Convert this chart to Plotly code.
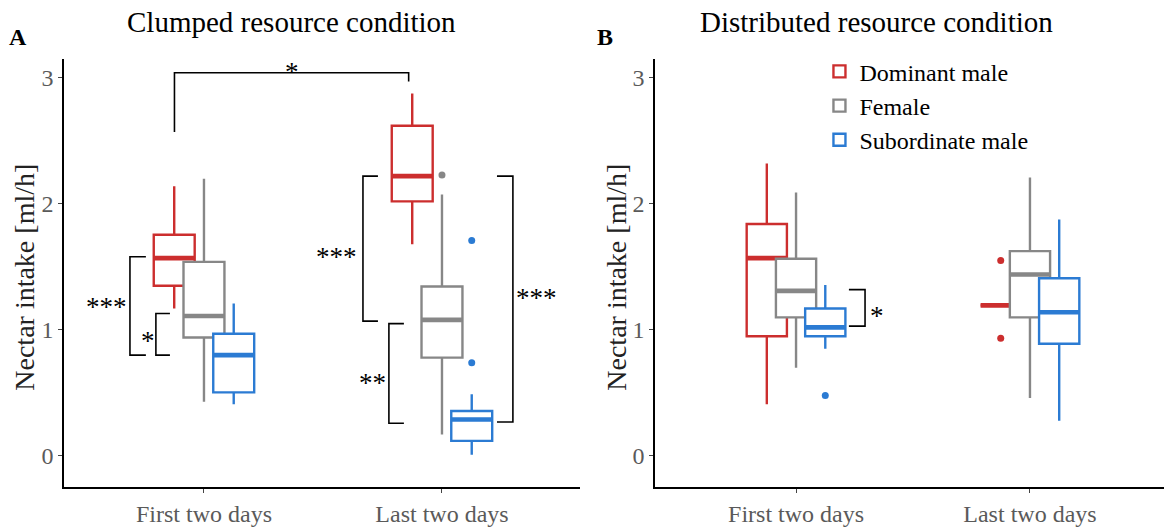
import plotly.graph_objects as go

# ---- data -------------------------------------------------------------
days = ["First two days", "Last two days"]
groups = ["Dominant male", "Female", "Subordinate male"]
colors = ["#CC2E2E", "#878787", "#2B7BD3"]

# Clumped resource condition: per group, values for [first, last]
clumped_lower = [[1.17, 1.68], [0.43, 0.17], [0.41, 0.01]]
clumped_q1 = [[1.35, 2.02], [0.94, 0.78], [0.505, 0.12]]
clumped_median = [[1.57, 2.22], [1.11, 1.08], [0.80, 0.29]]
clumped_q3 = [[1.755, 2.62], [1.54, 1.345], [0.97, 0.357]]
clumped_upper = [[2.14, 2.875], [2.20, 2.075], [1.21, 0.49]]
# outliers: (group index, day index, value)
clumped_outliers = [(1, 1, 2.23), (2, 1, 1.71), (2, 1, 0.74)]

# Distributed resource condition
distributed_lower = [[0.41, 1.195], [0.70, 0.46], [0.85, 0.28]]
distributed_q1 = [[0.95, 1.195], [1.10, 1.10], [0.95, 0.89]]
distributed_median = [[1.57, 1.195], [1.31, 1.44], [1.02, 1.14]]
distributed_q3 = [[1.84, 1.195], [1.565, 1.625], [1.17, 1.41]]
distributed_upper = [[2.32, 1.195], [2.09, 2.21], [1.357, 1.877]]
distributed_outliers = [(0, 1, 1.55), (0, 1, 0.935), (2, 0, 0.48)]

# significance brackets: (x of vertical, x of tick ends, y top, y bottom)
clumped_brackets = [
    (-0.311, -0.244, 1.58, 0.80),
    (-0.202, -0.143, 1.13, 0.80),
    (0.668, 0.731, 2.22, 1.07),
    (0.777, 0.840, 1.05, 0.26),
    (1.298, 1.231, 2.22, 0.27),
]
clumped_labels = [
    (-0.408, 1.23, "***"),
    (-0.235, 0.96, "*"),
    (0.555, 1.625, "***"),
    (0.706, 0.625, "**"),
    (1.399, 1.30, "***"),
]
distributed_brackets = [(0.295, 0.226, 1.32, 1.03)]
distributed_labels = [(0.346, 1.156, "*")]

# bracket between days (clumped, dominant males)
day_bracket_x = [-0.124, -0.124, 0.86, 0.86]
day_bracket_y = [2.57, 3.04, 3.04, 2.97]
day_label = (0.37, 3.09, "*")

# ---- figure -----------------------------------------------------------
FONT = "Liberation Serif"
offsets = [-0.125, 0.0, 0.125]
box_w = 0.172

fig = go.Figure()


def add_panel(xa, ya, lower, q1, med, q3, upper, outliers, show_legend):
    for gi, g in enumerate(groups):
        xs = [d + offsets[gi] for d in range(len(days))]
        fig.add_trace(go.Box(
            x=xs, q1=q1[gi], median=med[gi], q3=q3[gi],
            lowerfence=lower[gi], upperfence=upper[gi],
            width=box_w, whiskerwidth=0, boxpoints=False,
            line=dict(color=colors[gi], width=2.4), fillcolor="white",
            name=g, showlegend=show_legend,
            xaxis=xa, yaxis=ya, hoverinfo="skip",
        ))
        # thicker median bar
        fig.add_trace(go.Box(
            x=xs, q1=med[gi], median=med[gi], q3=med[gi],
            lowerfence=med[gi], upperfence=med[gi],
            width=box_w, whiskerwidth=0, boxpoints=False,
            line=dict(color=colors[gi], width=4.6), fillcolor="white",
            name=g, showlegend=False,
            xaxis=xa, yaxis=ya, hoverinfo="skip",
        ))
    for gi in range(len(groups)):
        pts = [(di + offsets[gi], v) for (g, di, v) in outliers if g == gi]
        if pts:
            fig.add_trace(go.Scatter(
                x=[p[0] for p in pts], y=[p[1] for p in pts], mode="markers",
                marker=dict(color=colors[gi], size=7), showlegend=False,
                xaxis=xa, yaxis=ya, hoverinfo="skip",
            ))


add_panel("x", "y", clumped_lower, clumped_q1, clumped_median, clumped_q3,
          clumped_upper, clumped_outliers, False)
add_panel("x2", "y2", distributed_lower, distributed_q1, distributed_median,
          distributed_q3, distributed_upper, distributed_outliers, True)


def add_brackets(xa, ya, brackets, labels):
    for xv, xt, yt, yb in brackets:
        fig.add_trace(go.Scatter(
            x=[xt, xv, xv, xt], y=[yt, yt, yb, yb], mode="lines",
            line=dict(color="black", width=1.6), showlegend=False,
            xaxis=xa, yaxis=ya, hoverinfo="skip",
        ))
    for lx, ly, txt in labels:
        fig.add_annotation(x=lx, y=ly, xref=xa, yref=ya, text=txt,
                           showarrow=False, yshift=-6,
                           xanchor="center", yanchor="middle",
                           font=dict(family=FONT, size=27, color="black"))


add_brackets("x", "y", clumped_brackets, clumped_labels)
add_brackets("x2", "y2", distributed_brackets, distributed_labels)
fig.add_trace(go.Scatter(
    x=day_bracket_x, y=day_bracket_y, mode="lines",
    line=dict(color="black", width=1.6), showlegend=False,
    xaxis="x", yaxis="y", hoverinfo="skip",
))
fig.add_annotation(x=day_label[0], y=day_label[1], xref="x", yref="y",
                   text=day_label[2], showarrow=False, yshift=-6,
                   xanchor="center", yanchor="middle",
                   font=dict(family=FONT, size=27, color="black"))

axis_common = dict(
    showline=True, linecolor="black", linewidth=1.6, showgrid=False,
    zeroline=False, ticks="outside", ticklen=4, tickwidth=1,
    tickcolor="#444444", tickfont=dict(family=FONT, size=24, color="#5a5a5a"),
    fixedrange=True,
)
y_dom = [0.0607, 0.886]
fig.update_layout(
    width=1164, height=527,
    margin=dict(l=0, r=0, t=0, b=0),
    paper_bgcolor="white", plot_bgcolor="white",
    boxmode="overlay",
    xaxis=dict(domain=[0.055, 0.4983], range=[-0.588, 1.580],
               tickvals=[0, 1], ticktext=days, **axis_common),
    yaxis=dict(domain=y_dom, range=[-0.25, 3.148], tickvals=[0, 1, 2, 3],
               **axis_common),
    xaxis2=dict(domain=[0.5627, 1.0], range=[-0.603, 1.573], anchor="y2",
                tickvals=[0, 1], ticktext=days, **axis_common),
    yaxis2=dict(domain=y_dom, range=[-0.25, 3.148], tickvals=[0, 1, 2, 3],
                anchor="x2", **axis_common),
    legend=dict(x=0.704, y=0.905, xanchor="left", yanchor="top",
                font=dict(family=FONT, size=24, color="black"),
                bgcolor="rgba(0,0,0,0)", tracegroupgap=0),
    font=dict(family=FONT),
)

# panel titles, letters and axis titles
for x_px, title in [(291, "Clumped resource condition"),
                    (876, "Distributed resource condition")]:
    fig.add_annotation(x=x_px / 1164, y=1 - 22 / 527, xref="paper",
                       yref="paper", text=title, showarrow=False,
                       xanchor="center", yanchor="middle",
                       font=dict(family=FONT, size=29, color="black"))
for x_px, letter in [(18, "A"), (605, "B")]:
    fig.add_annotation(x=x_px / 1164, y=1 - 38 / 527, xref="paper",
                       yref="paper", text="<b>%s</b>" % letter,
                       showarrow=False, xanchor="center", yanchor="middle",
                       font=dict(family=FONT, size=24, color="black"))
for x_px in [25, 617]:
    fig.add_annotation(x=x_px / 1164, y=1 - 282 / 527, xref="paper",
                       yref="paper", text="Nectar intake [ml/h]",
                       textangle=-90, showarrow=False,
                       xanchor="center", yanchor="middle",
                       font=dict(family=FONT, size=28, color="#222222"))

fig.write_html("out.html")
